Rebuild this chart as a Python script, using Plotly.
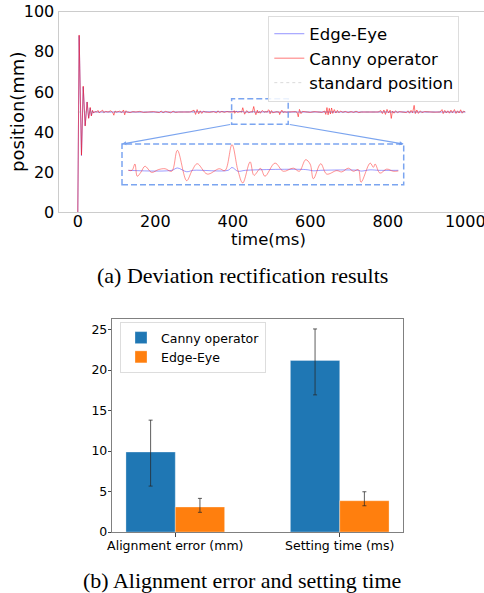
import plotly.graph_objects as go

# body margin is removed in the page (post_script), so the figure fills the window exactly
PAGE_OFF = 0
W, H = 484 - PAGE_OFF, 593 - PAGE_OFF

# ---------------- data: (a) deviation rectification ----------------
canny_t = [0, 3.5, 9.5, 14, 19, 24, 28, 32, 35, 38, 41, 44, 48, 52, 55, 58, 64, 67, 72, 78,
           85, 90, 93, 96, 100, 108, 113, 118, 121, 124, 128, 135, 142, 150, 160, 170, 180, 195,
           210, 215, 220, 226, 232, 240, 246, 252, 260, 275, 290, 300, 304, 308, 312, 316, 320,
           324, 330, 340, 350, 358, 362, 366, 372, 378, 385, 392,
           400.3, 402.2, 403.7, 404.9, 406.8, 408.9, 412.4, 415.8, 419.3, 422.8, 425.7, 430.5,
           433.3, 436.0, 441.2, 447.4, 450.4, 454.0, 457.1, 459.6, 463.4, 465.4, 468.8, 471.1,
           476.3, 480.6, 485.8, 488.9, 492.2, 494.5, 496.2, 500.0, 503.1, 508.3, 510.9, 514.3,
           516.9, 519.5, 520.9, 525.6, 527.3, 528.2, 530.7, 534.2, 537.6, 540.2,
           548, 555, 562, 566, 569, 572, 576, 580, 588, 600, 610, 620, 630, 637, 640, 643, 646,
           649, 652, 655, 658, 662, 666, 670, 674, 678, 684, 690, 698, 705, 712, 718, 725, 732,
           745, 760, 775, 782, 786, 790, 794, 798, 802, 806, 809, 812, 816, 820, 825, 830, 840,
           848, 852, 856, 860, 864, 868, 871, 875, 879, 884, 888, 895, 905, 920, 935, 940, 943,
           947, 951, 955, 959, 963, 967, 972, 976, 980, 984, 988, 992, 996, 1000]
canny_v = [0, 88.4, 28.5, 62.9, 43, 55, 46.8, 52.3, 48, 50.8, 49.5, 50.2, 50, 50.8, 49.6, 50, 50.9, 49.7, 50.3, 50,
           50.6, 49.8, 48.4, 50.5, 50, 50.4, 49.7, 51.0, 48.6, 50.6, 50, 49.7, 50.2, 50, 50.3, 49.8, 50, 50.2,
           49.7, 50.5, 49.6, 50.3, 50, 49.6, 50.4, 49.8, 50, 50.1, 50, 50.9, 48.8, 51.2, 49.1, 50.6, 49.3,
           50.4, 50, 49.8, 50.2, 49.6, 50.6, 49.7, 50.3, 49.8, 50.2, 50,
           50.0, 50.0, 50.67, 49.37, 49.8, 50.43, 49.78, 50.07, 50.17, 49.9, 52.13, 48.9,
           49.97, 50.7, 49.6, 50.17, 49.97, 52.73, 49.97, 48.65, 50.9, 49.47, 50.2, 49.37,
           50.77, 49.9, 50.23, 49.9, 51.13, 50.67, 49.1, 50.7, 49.6, 49.97, 49.83, 50.23,
           49.9, 50.07, 48.73, 50.77, 50.32, 50.67, 49.7, 50.13, 49.9, 49.93,
           50.1, 50, 50.2, 49.8, 47.6, 51.3, 49.2, 50.3, 50, 49.8, 50.2, 50, 49.8, 50.5, 48.8, 52.2, 48.6,
           51.8, 49, 52, 49.3, 51.2, 49.5, 50.8, 49.6, 50.5, 49.8, 50.3, 49.7, 50.2, 49.8, 50.4, 49.7, 50,
           50.1, 49.9, 50, 50.7, 49.2, 51, 48.8, 51.3, 49.5, 50.9, 46.8, 50.5, 49.4, 50.6, 49.7, 50.2, 50,
           49.7, 50.6, 49.4, 50.8, 49.6, 53.3, 49.2, 51, 49.3, 50.6, 49.7, 50.2, 50, 49.9, 50, 51.2, 49.2,
           50.8, 49.5, 50.6, 49.4, 50.9, 49.6, 51.2, 49.3, 50.6, 49.5, 51.1, 49.4, 50.5, 50]

edge_t = [0, 3.5, 9.5, 14, 19, 24, 28, 32, 35, 38, 41, 44, 50, 100, 200, 300, 400.3, 422.8, 425.7,
          430.5, 434, 452, 454, 457.1, 461, 492.2, 496.2, 500, 519.5, 520.9, 525.6, 530, 540.2,
          600, 700, 800, 900, 1000]
edge_v = [0, 88, 28.3, 62.5, 43.2, 55, 47, 52, 48.3, 50.6, 49.6, 50.1, 50, 50.1, 49.95, 50.05, 50, 50, 50.25,
          49.85, 50, 50, 50.3, 49.9, 50, 50.08, 49.95, 50, 50, 49.92, 50.05, 50, 50,
          50, 50.05, 49.95, 50.05, 50]

std_t = [0, 1000]
std_v = [50, 50]

x_ticks = [0, 200, 400, 600, 800, 1000]
y_ticks = [0, 20, 40, 60, 80, 100]

zoom_x = [397, 543]      # zoomed window (time)
zoom_y = [43.9, 56.6]    # marker box height in main plot
inset_y = [48.47, 52.8]  # inset vertical range

# ---------------- data: (b) bars ----------------
bar_cats = ["Alignment error (mm)", "Setting time (ms)"]
canny_bar = [9.87, 21.18]
canny_err_plus = [3.94, 3.89]
canny_err_minus = [4.2, 4.25]
edge_bar = [3.08, 3.86]
edge_err_plus = [1.07, 1.11]
edge_err_minus = [0.65, 0.62]
bar_y_ticks = [0, 5, 10, 15, 20, 25]

# ---------------- helpers (window pixels -> paper fractions) ----------------
def fx(px):
    return (px - PAGE_OFF) / W

def fy(py):
    return 1 - (py - PAGE_OFF) / H

FONT = "DejaVu Sans"
SERIF = "Liberation Serif"
BLUE = "rgba(60,60,255,0.55)"
RED = "rgba(255,30,30,0.6)"
CB = "rgba(100,149,237,0.85)"

# main axes geometry
X_DOM = [fx(58.5), 1.0]
Y_DOM = [fy(212.3), fy(11.7)]
X_RNG = [-49.8, 1048.3]
Y_RNG = [0, 100]
IN_X_DOM = [fx(122), fx(403.7)]
IN_Y_DOM = [fy(184.7), fy(144)]


def paper_to_x(f):
    return X_RNG[0] + (f - X_DOM[0]) / (X_DOM[1] - X_DOM[0]) * (X_RNG[1] - X_RNG[0])


def paper_to_y(f):
    return Y_RNG[0] + (f - Y_DOM[0]) / (Y_DOM[1] - Y_DOM[0]) * (Y_RNG[1] - Y_RNG[0])


fig = go.Figure()

# main traces
fig.add_trace(go.Scatter(x=edge_t, y=edge_v, mode="lines", name="Edge-Eye",
                         line=dict(color=BLUE, width=1), legend="legend",
                         xaxis="x", yaxis="y"))
fig.add_trace(go.Scatter(x=canny_t, y=canny_v, mode="lines", name="Canny operator",
                         line=dict(color=RED, width=1), legend="legend",
                         xaxis="x", yaxis="y"))
fig.add_trace(go.Scatter(x=std_t, y=std_v, mode="lines", name="standard position",
                         line=dict(color="rgba(150,150,150,0.45)", width=0.8, dash="dot"),
                         legend="legend", xaxis="x", yaxis="y"))

# inset traces (subset of the same data)
in_ct = [t for t in canny_t if zoom_x[0] <= t <= zoom_x[1]]
in_cv = [v for t, v in zip(canny_t, canny_v) if zoom_x[0] <= t <= zoom_x[1]]
in_et = [t for t in edge_t if zoom_x[0] <= t <= zoom_x[1]]
in_ev = [v for t, v in zip(edge_t, edge_v) if zoom_x[0] <= t <= zoom_x[1]]
fig.add_trace(go.Scatter(x=in_et, y=in_ev, mode="lines", showlegend=False,
                         line=dict(color="rgba(60,60,255,0.5)", width=1, shape="spline", smoothing=1.0),
                         xaxis="x2", yaxis="y2"))
fig.add_trace(go.Scatter(x=in_ct, y=in_cv, mode="lines", showlegend=False,
                         line=dict(color="rgba(255,40,40,0.5)", width=1, shape="spline", smoothing=1.0),
                         xaxis="x2", yaxis="y2"))

# bars
fig.add_trace(go.Bar(x=bar_cats, y=canny_bar, name="Canny operator", marker_color="#1f77b4",
                     marker_line=dict(width=0.6, color="rgba(255,255,255,0.5)"),
                     error_y=dict(type="data", symmetric=False, array=canny_err_plus,
                                  arrayminus=canny_err_minus, color="rgba(40,40,40,0.75)",
                                  thickness=1, width=2),
                     legend="legend2", xaxis="x3", yaxis="y3"))
fig.add_trace(go.Bar(x=bar_cats, y=edge_bar, name="Edge-Eye", marker_color="#ff7f0e",
                     marker_line=dict(width=0.6, color="rgba(255,255,255,0.5)"),
                     error_y=dict(type="data", symmetric=False, array=edge_err_plus,
                                  arrayminus=edge_err_minus, color="rgba(40,40,40,0.75)",
                                  thickness=1, width=2),
                     legend="legend2", xaxis="x3", yaxis="y3"))

tickfont_a = dict(family=FONT, size=16, color="black")
tickfont_b = dict(family=FONT, size=12.5, color="black")

fig.update_layout(
    width=W, height=H, margin=dict(l=0, r=0, t=0, b=0, autoexpand=False),
    paper_bgcolor="white", plot_bgcolor="rgba(0,0,0,0)",
    barmode="group", bargap=0.4, bargroupgap=0,
    showlegend=True,
    xaxis=dict(domain=X_DOM, range=X_RNG, tickvals=x_ticks, automargin=False,
               showgrid=False, zeroline=False, showline=True, linecolor="#cccccc",
               linewidth=1, mirror=True, ticks="", tickfont=tickfont_a, anchor="y",
               ticklabelstandoff=-6, ticklabeloverflow="allow"),
    yaxis=dict(domain=Y_DOM, range=Y_RNG, tickvals=y_ticks, automargin=False,
               showgrid=False, zeroline=False, showline=True, linecolor="#cccccc",
               linewidth=1, ticks="", tickfont=tickfont_a, anchor="x",
               ticklabeloverflow="allow"),
    xaxis2=dict(domain=IN_X_DOM, range=zoom_x, visible=False, anchor="y2", automargin=False),
    yaxis2=dict(domain=IN_Y_DOM, range=inset_y, visible=False, anchor="x2", automargin=False),
    xaxis3=dict(domain=[fx(112.3), fx(402.7)], range=[-0.383, 1.383], type="category",
                automargin=False,
                showgrid=False, zeroline=False, showline=True, linecolor="#808080",
                linewidth=1, mirror=True, ticks="outside", ticklen=3.5, tickcolor="#444",
                tickfont=tickfont_b, anchor="y3", ticklabelstandoff=-2),
    yaxis3=dict(domain=[fy(532), fy(319)], range=[0, 26.3], tickvals=bar_y_ticks,
                automargin=False,
                showgrid=False, zeroline=False, showline=True, linecolor="#808080",
                linewidth=1, mirror=True, ticks="outside", ticklen=3.5, tickcolor="#444",
                tickfont=tickfont_b, anchor="x3", ticklabelstandoff=-2),
    legend=dict(x=fx(268.3), y=fy(15.5), xanchor="left", yanchor="top",
                bgcolor="rgba(255,255,255,0.85)", bordercolor="#dddddd", borderwidth=1,
                font=dict(family=FONT, size=16.5, color="black"), tracegroupgap=0,
                itemwidth=30),
    legend2=dict(x=fx(120), y=fy(322), xanchor="left", yanchor="top",
                 bgcolor="rgba(255,255,255,0.85)", bordercolor="#dddddd", borderwidth=1,
                 font=dict(family=FONT, size=12.5, color="black"), tracegroupgap=0,
                 traceorder="normal"),
)

# zoom box in main plot, and inset frame
fig.add_shape(type="rect", xref="x", yref="y", x0=zoom_x[0], x1=zoom_x[1], y0=zoom_y[0], y1=zoom_y[1],
              line=dict(color=CB, width=1.5, dash="6px,3px"), layer="above")
fig.add_shape(type="rect", xref="x2 domain", yref="y2 domain", x0=0, x1=1, y0=0, y1=1,
              line=dict(color=CB, width=1.5, dash="6px,3px"), layer="above")

# connector lines with arrow heads at inset's top corners
for corner_f, box_x in [(IN_X_DOM[0], zoom_x[0]), (IN_X_DOM[1], zoom_x[1])]:
    fig.add_annotation(x=paper_to_x(corner_f), y=paper_to_y(IN_Y_DOM[1]), xref="x", yref="y",
                       ax=box_x, ay=zoom_y[0], axref="x", ayref="y",
                       text="", showarrow=True, arrowhead=2, arrowsize=0.7,
                       arrowwidth=1.2, arrowcolor=CB, standoff=0, startstandoff=0)

# axis titles and captions
fig.add_annotation(x=fx(17), y=fy(112), xref="paper", yref="paper", text="position(mm)",
                   textangle=-90, showarrow=False, xanchor="center", yanchor="middle",
                   font=dict(family=FONT, size=18, color="black"))
fig.add_annotation(x=fx(268), y=fy(239.3), xref="paper", yref="paper", text="time(ms)",
                   showarrow=False, xanchor="center", yanchor="middle",
                   font=dict(family=FONT, size=16.5, color="black"))
fig.add_annotation(x=fx(242), y=fy(275), xref="paper", yref="paper",
                   text="(a) Deviation rectification results", showarrow=False,
                   xanchor="center", yanchor="middle",
                   font=dict(family=SERIF, size=22, color="black"))
fig.add_annotation(x=fx(242), y=fy(580), xref="paper", yref="paper",
                   text="(b) Alignment error and setting time", showarrow=False,
                   xanchor="center", yanchor="middle",
                   font=dict(family=SERIF, size=22, color="black"))

fig.write_html("out.html", config={"displayModeBar": False},
               post_script="document.body.style.margin='0px';")
